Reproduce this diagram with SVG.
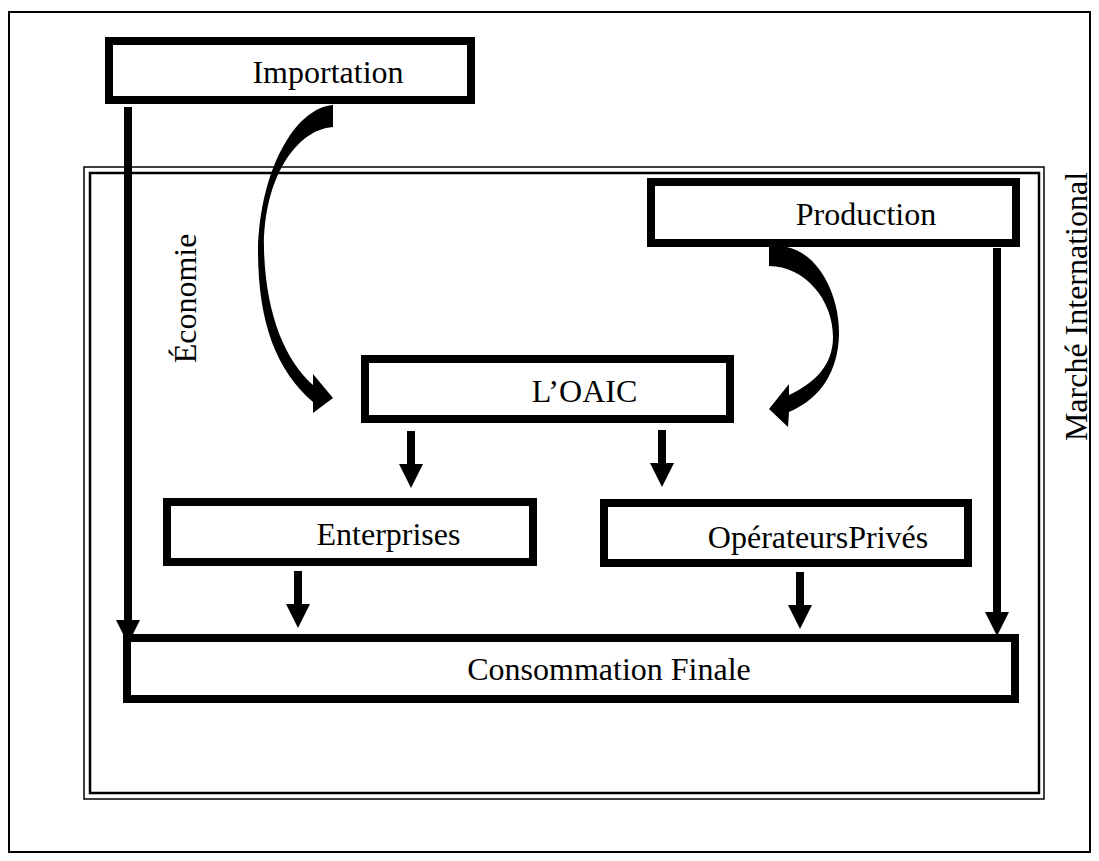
<svg xmlns="http://www.w3.org/2000/svg" width="1099" height="861" viewBox="0 0 1099 861">
<defs>
<style>
.box{fill:#fff;stroke:#000;stroke-width:8}
.lbl{font-family:"Liberation Serif","Times New Roman",serif;font-size:32px;fill:#000;text-anchor:middle}
.conn{stroke:#000;stroke-width:8;fill:none}
.curve{fill:#000;stroke:none}
</style>
<marker id="ah" viewBox="0 0 24 24" refX="1" refY="12" markerWidth="24" markerHeight="24" markerUnits="userSpaceOnUse" orient="auto">
<path d="M0,0 L24,12 L0,24 Z" fill="#000"/>
</marker>
</defs>
<rect x="0" y="0" width="1099" height="861" fill="#fff"/>
<g id="frame">
<rect x="9" y="12" width="1081" height="840" fill="none" stroke="#000" stroke-width="2"/>
</g>
<g id="economie-border">
<rect x="84" y="167" width="960" height="632" fill="none" stroke="#000" stroke-width="1.5"/>
<rect x="90" y="173" width="949" height="620" fill="none" stroke="#000" stroke-width="2.5"/>
</g>
<g id="labels">
<text class="lbl" transform="translate(196,298.5) rotate(-90)">Économie</text>
<text class="lbl" transform="translate(1087,306.5) rotate(-90)">Marché International</text>
</g>
<g id="node-importation">
<rect class="box" x="109" y="41" width="362" height="59"/>
<text class="lbl" x="328" y="83">Importation</text>
</g>
<g id="node-production">
<rect class="box" x="651" y="182" width="365" height="61"/>
<text class="lbl" x="866" y="225">Production</text>
</g>
<g id="node-oaic">
<rect class="box" x="365" y="359" width="365" height="60"/>
<text class="lbl" x="584.5" y="402">L’OAIC</text>
</g>
<g id="node-enterprises">
<rect class="box" x="167" y="502" width="366" height="60"/>
<text class="lbl" x="388.5" y="545">Enterprises</text>
</g>
<g id="node-operateurs">
<rect class="box" x="604" y="503" width="364" height="60"/>
<text class="lbl" x="818" y="548">OpérateursPrivés</text>
</g>
<g id="node-consommation">
<rect class="box" x="127" y="638" width="888" height="61"/>
<text class="lbl" x="609" y="680">Consommation Finale</text>
</g>
<g id="connectors">
<path class="curve" d="M333,105 C295,108 260,170 258,250 C258,322 276,370 313,402 L313,413 L333,398 L313,374 L313,385 C285,360 266,315 264,250 C263,180 295,130 333,127 Z"/>
<path class="curve" d="M769,247 L787,247 C822,255 840,300 839,335 C838,370 822,398 789,412 L788,427 L769,409 L789,384 L789,395 C815,383 833,365 833,337 C833,300 805,266 769,266 Z"/>
<line class="conn" x1="411" y1="431" x2="411" y2="465" marker-end="url(#ah)"/>
<line class="conn" x1="662" y1="430" x2="662" y2="464" marker-end="url(#ah)"/>
<line class="conn" x1="298" y1="571" x2="298" y2="605" marker-end="url(#ah)"/>
<line class="conn" x1="800" y1="572" x2="800" y2="606" marker-end="url(#ah)"/>
<line class="conn" x1="128" y1="107" x2="128" y2="621" marker-end="url(#ah)"/>
<line class="conn" x1="997" y1="248" x2="997" y2="613" marker-end="url(#ah)"/>
</g>
</svg>
